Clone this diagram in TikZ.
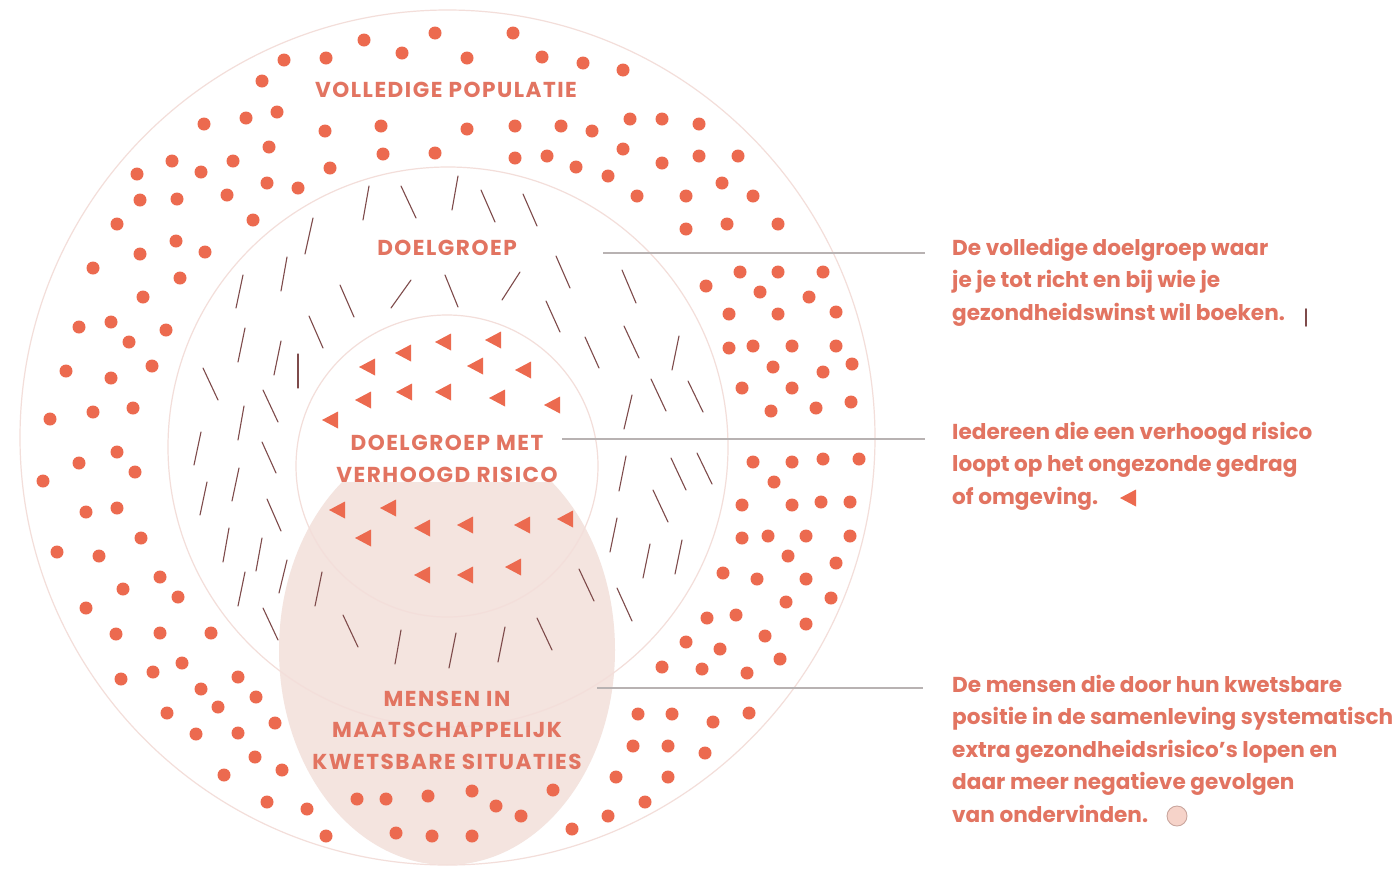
\documentclass[tikz,border=0pt]{standalone}
\usepackage{fontspec}
\setmainfont{Poppins}
\definecolor{dotc}{HTML}{EC6A4F}
\definecolor{txtc}{HTML}{E27461}
\definecolor{ringc}{HTML}{F3DEDA}
\definecolor{dashc}{HTML}{7E4B4B}
\definecolor{ellc}{HTML}{F4E4DF}
\definecolor{linec}{HTML}{B8B2B2}
\definecolor{mkfill}{HTML}{F6D3C9}
\definecolor{mkdraw}{HTML}{C9A59D}
\begin{document}
\begin{tikzpicture}[x=1pt,y=-1pt,
 ring/.style={draw=ringc,line width=1.2pt},
 person/.style={fill=dotc},
 dashmark/.style={draw=dashc,line width=1.1pt,line cap=round},
 lbl/.style={text=txtc,font=\fontsize{21.6}{31.5}\selectfont\bfseries\addfontfeature{LetterSpace=7},align=center,inner sep=0pt},
 desc/.style={text=txtc,font=\fontsize{21.6}{32.5}\selectfont\bfseries,align=left,inner sep=0pt,anchor=base west},
 leader/.style={draw=linec,line width=1.3pt}]
\useasboundingbox (0,0) rectangle (1399,868);
\fill[white] (0,0) rectangle (1399,868);
% vulnerable group ellipse
\fill[ellc] (447,650) ellipse [x radius=168pt, y radius=215pt];
% rings
\draw[ring] (447.5,437.5) circle [radius=427.5pt];
\draw[ring] (448,447) circle [radius=280pt];
\draw[ring] (447,466) circle [radius=151pt];
% dots (full population)
\foreach \x/\y in {435/33,364/40,402/53,326/58,284/60,262/81,513/33,467/58,542/57,583/63,623/70,
204/124,246/118,277/112,325/131,381/126,467/129,515/126,561/126,592/131,630/119,662/119,699/124,
269/147,172/161,201/172,233/161,330/168,383/154,435/153,515/158,547/156,576/167,608/176,623/149,662/163,699/156,738/156,
137/174,140/200,177/199,227/195,267/183,298/188,722/183,753/196,637/196,686/196,
117/224,253/220,686/229,727/224,778/224,
176/241,140/254,205/252,93/268,180/278,143/297,
740/272,778/272,823/272,706/286,760/292,809/297,
79/327,111/322,166/330,129/342,66/371,111/378,152/366,50/419,93/412,133/408,117/452,79/463,135/472,43/481,86/512,117/508,141/538,57/552,99/556,160/577,
123/589,178/597,86/608,116/634,160/633,211/633,182/663,153/672,121/679,238/677,201/689,256/697,218/707,167/713,275/723,196/734,238/733,255/757,282/770,224/775,267/802,307/809,326/836,
357/799,386/799,428/796,396/833,432/836,472/791,496/806,521/816,553/790,472/836,
572/829,608/816,645/802,616/777,668/777,633/746,668/746,705/753,638/714,672/714,713/722,749/713,662/667,702/669,747/673,780/659,686/642,720/649,765/636,806/624,707/618,736/615,786/602,831/598,723/573,757/579,806/579,
729/314,778/314,836/312,729/348,753/346,792/346,836/346,773/367,823/372,852/364,742/388,792/388,771/411,816/408,851/402,
753/462,792/462,823/459,859/459,774/482,742/505,792/505,821/502,850/502,742/538,768/536,806/536,850/536,788/556,836/563}
  \fill[person] (\x,\y) circle [radius=6.5pt];
% dashes (target group)
\foreach \a/\b/\c/\d in {369/186/363/220,401/186/416/218,458/176/452/210,481/190/495/222,523/194/537/226,
313/218/305/254,287/257/281/291,243/275/236/308,340/285/354/317,411/280/391/308,445/275/458/307,520/272/502/300,
556/256/570/288,622/270/636/303,245/328/238/362,281/341/274/375,298/354/298/388,309/316/323/348,203/368/218/400,
263/390/278/422,244/406/238/440,201/432/194/465,262/442/276/473,239/468/232/501,207/482/200/515,267/499/281/531,
229/528/223/562,262/538/256/571,245/572/238/606,287/560/279/593,322/572/315/606,263/608/278/640,343/615/358/647,
401/630/395/664,456/633/449/668,505/627/498/662,537/618/552/650,579/569/594/601,617/588/632/621,546/301/560/332,
585/337/599/368,624/326/639/358,679/336/672/370,651/379/666/411,688/381/703/412,632/395/624/429,626/456/619/491,
671/458/686/490,697/453/712/484,653/490/668/522,617/518/610/552,650/544/643/578,682/540/675/574}
  \draw[dashmark] (\a,\b) -- (\c,\d);
% triangles (elevated risk)
\foreach \x/\y in {443/342,403/353,367/367,404/392,443/392,363/400,330/420,337/510,388/508,422/528,363/538,422/575,
493/340,475/366,523/370,497/398,552/405,465/525,522/525,565/519,513/567,465/575}
  \fill[dotc] (\x-8,\y) -- (\x+8,\y-8.5) -- (\x+8,\y+8.5) -- cycle;
% labels
\node[lbl,anchor=base] (pop) at (446,97) {VOLLEDIGE POPULATIE};
\node[lbl,anchor=base] (dg) at (447,255) {DOELGROEP};
\node[lbl,anchor=base,fill=white] (risk) at (447,482) {DOELGROEP MET\\VERHOOGD RISICO};
\node[lbl,anchor=base] (vuln) at (447,769) {MENSEN IN\\MAATSCHAPPELIJK\\KWETSBARE SITUATIES};
% descriptions
\node[desc] (t1) at (952,320) {De volledige doelgroep waar\\je je tot richt en bij wie je\\gezondheidswinst wil boeken.};
\node[desc] (t2) at (952,504) {Iedereen die een verhoogd risico\\loopt op het ongezonde gedrag\\of omgeving.};
\node[desc] (t3) at (952,822) {De mensen die door hun kwetsbare\\positie in de samenleving systematisch\\extra gezondheidsrisico's lopen en\\daar meer negatieve gevolgen\\van ondervinden.};
% leaders
\coordinate (s1) at (603,253); \coordinate (e1) at (925,253);
\coordinate (s2) at (562,439); \coordinate (e2) at (925,439);
\coordinate (s3) at (597,688); \coordinate (e3) at (923,688);
\draw[leader] (s1) -- (e1);
\draw[leader] (s2) -- (e2);
\draw[leader] (s3) -- (e3);
% legend markers
\draw[dashmark,line width=1.8pt] (1306,309) -- (1306,326);
\fill[dotc] (1120,498) -- (1136,489.5) -- (1136,506.5) -- cycle;
\filldraw[fill=mkfill,draw=mkdraw,line width=0.9pt] (1177,816) circle [radius=10pt];
\end{tikzpicture}
\end{document}
